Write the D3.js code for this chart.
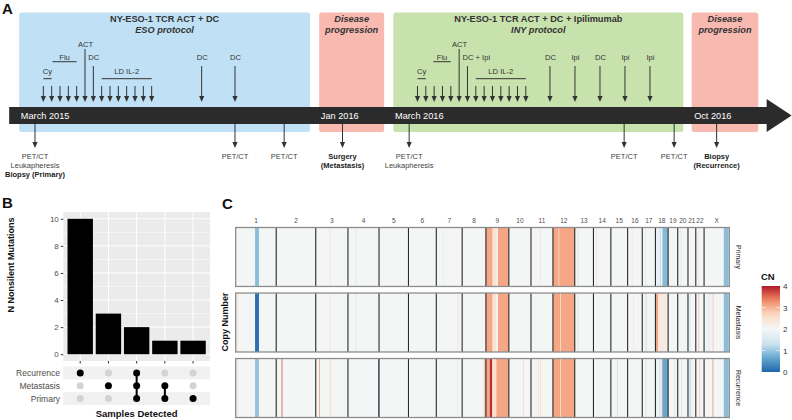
<!DOCTYPE html>
<html><head><meta charset="utf-8">
<script src="https://cdn.jsdelivr.net/npm/d3@7"></script>
<style>body{margin:0;background:#fff}svg{display:block;font-family:"Liberation Sans",Arial,sans-serif}</style>
</head><body><svg id="c" width="792" height="420"></svg>
<script>
// ---------------- Panel A data (schematic timeline units) ----------------
const phases = [
  {title:"NY-ESO-1 TCR ACT + DC", sub:"ESO protocol", start:-1.9, end:33.0, kind:"eso"},
  {title:"Disease", sub:"progression", start:34.1, end:41.9, kind:"pd"},
  {title:"NY-ESO-1 TCR ACT + DC + Ipilimumab", sub:"INY protocol", start:43.0, end:77.8, kind:"iny"},
  {title:"Disease", sub:"progression", start:78.8, end:86.8, kind:"pd"}
];
const timelineLabels = [
  {label:"March 2015", t:-1.7}, {label:"Jan 2016", t:34.3},
  {label:"March 2016", t:43.2}, {label:"Oct 2016", t:79.1}
];
const dailyDosesESO = [1,2,3,4,5,6,7,8,9,10,11,12,13,14];
const dailyDosesINY = [45.9,46.9,47.9,48.9,49.9,50.9,51.9,52.9,53.9,54.9,55.9,56.9,57.9,58.9];
const labeledDoses = [
  {t:6, label:"ACT", level:0}, {t:7, label:"DC", level:1},
  {t:20, label:"DC", level:1}, {t:24, label:"DC", level:1},
  {t:50.9, label:"ACT", level:0}, {t:51.9, label:"DC + Ipi", level:1, anchor:"start"},
  {t:61.8, label:"DC", level:1}, {t:64.8, label:"Ipi", level:1}, {t:67.8, label:"DC", level:1},
  {t:70.8, label:"Ipi", level:1}, {t:73.8, label:"Ipi", level:1}
];
const doseRanges = [
  {label:"Cy", from:1, to:2, level:2}, {label:"Flu", from:2.1, to:5, level:1},
  {label:"LD IL-2", from:8, to:14, level:2},
  {label:"Cy", from:45.9, to:46.9, level:2}, {label:"Flu", from:47.8, to:49.9, level:1},
  {label:"LD IL-2", from:52.9, to:58.9, level:2}
];
const events = [
  {t:0, lines:["PET/CT","Leukapheresis"], bold:["Biopsy (Primary)"]},
  {t:24, lines:["PET/CT"], bold:[]},
  {t:29.9, lines:["PET/CT"], bold:[]},
  {t:36.9, lines:[], bold:["Surgery","(Metastasis)"]},
  {t:44.9, lines:["PET/CT","Leukapheresis"], bold:[]},
  {t:70.7, lines:["PET/CT"], bold:[]},
  {t:76.7, lines:["PET/CT"], bold:[]},
  {t:81.8, lines:[], bold:["Biopsy","(Recurrence)"]}
];

// ---------------- Panel B data ----------------
const sampleSets = ["Recurrence","Metastasis","Primary"];
const combos = [["Recurrence"],["Metastasis"],["Recurrence","Metastasis","Primary"],["Metastasis","Primary"],["Primary"]];
const mutationCounts = [10,3,2,1,1];
const yTicksB = [0,2,4,6,8,10];

// ---------------- Panel C data ----------------
const chromNames = ["1","2","3","4","5","6","7","8","9","10","11","12","13","14","15","16","17","18","19","20","21","22","X"];
const chromLengths = [249,243,198,191,181,171,159,146,141,136,135,134,115,107,103,90,81,78,59,63,48,51,155];
const cnSamples = ["Primary","Metastasis","Recurrence"];
const segPrimary = [
  ["1",119,143,0.9],["3",86,90,2.5],["4",42,52,1.7],["7",39,42,1.7],["8",0,4,2.5],
  ["9",0,41,3.1],["9",41,66,2.5],["9",74,141,3.1],["11",55,58,2.5],
  ["12",0,134,3.1],["12",34,37,2.6],["13",17,21,1.4],["14",17,20,2.6],["16",26,29,2.4],
  ["17",19,22,1.6],["18",0,22,1.8],["18",27,32,1.1],["18",43,78,0.85],["20",17,20,1.5],
  ["22",16,19,2.6],["X",121,150,0.9]
];
const segMetastasis = [
  ["1",10,14,2.5],["1",119,143,0.1],["3",86,90,2.5],["4",42,52,1.7],["7",131,135,2.6],
  ["9",0,41,3.1],["9",41,64,2.5],["9",74,141,3.1],["12",0,134,3.1],["12",44,48,2.4],
  ["13",18,22,1.4],["16",35,38,2.5],["17",20,27,1.3],["18",0,16,3.1],["18",16,78,2.3],
  ["21",10,14,1.3],["22",16,20,2.9],["X",15,45,1.8],["X",53,57,2.9],["X",121,150,0.9]
];
const segRecurrence = [
  ["1",10,14,2.5],["1",119,143,0.95],["2",33,38,3.6],["3",20,24,3.2],["3",86,92,2.7],
  ["4",186,191,0.2],["7",129,133,1.6],["8",132,146,2.8],
  ["9",0,24,3.1],["9",24,39,3.9],["9",39,64,2.6],["9",64,141,3.1],["10",88,92,2.7],
  ["11",43,46,2.6],["11",55,63,2.5],["12",0,134,3.1],["12",44,48,2.4],["15",38,42,1.3],
  ["17",20,25,1.3],["18",0,14,1.8],["18",22,32,1.4],["18",39,42,3.3],["18",44,78,0.65],
  ["19",39,43,1.5],["20",20,24,1.4],["21",8,20,1.3],["22",22,26,2.9],["X",52,56,3.3],["X",121,150,0.9]
];
const cnBreaks = [0,1,2,3,4];

// ======================================================================
const svg = d3.select("#c");
const dark = "#333";

// ---------------- Panel A ----------------
const tx = d3.scaleLinear().domain([0,1]).range([35,43.333]);
const gA = svg.append("g");
gA.append("text").attr("x",2).attr("y",14).attr("font-size",15).attr("font-weight","bold").attr("fill","#111").text("A");
const phaseFill = {eso:"#c0e1f5", pd:"#f7b9b0", iny:"#c8e2ad"};
const boxTop = 12.5, boxBot = 132;
phases.forEach(p=>{
  gA.append("rect").attr("x",tx(p.start)).attr("y",boxTop).attr("width",tx(p.end)-tx(p.start))
    .attr("height",boxBot-boxTop).attr("rx",2.5).attr("fill",phaseFill[p.kind]);
  const cx = (tx(p.start)+tx(p.end))/2;
  gA.append("text").attr("x",cx).attr("y",22).attr("text-anchor","middle").attr("font-size",9.2)
    .attr("font-weight","bold").attr("font-style",p.kind==="pd"?"italic":"normal").attr("fill",dark).text(p.title);
  gA.append("text").attr("x",cx).attr("y",33).attr("text-anchor","middle").attr("font-size",9.2)
    .attr("font-weight","bold").attr("font-style","italic").attr("fill",dark).text(p.sub);
});
const tlTop=107, tlBot=124, headStart=tx(87.8), headTip=tx(90.8);
gA.append("path").attr("fill","#2b2b2b")
  .attr("d",`M${tx(-3.1)},${tlTop}L${headStart},${tlTop}L${headStart},99L${headTip},${(tlTop+tlBot)/2}L${headStart},132L${headStart},${tlBot}L${tx(-3.1)},${tlBot}Z`);
timelineLabels.forEach(d=>{
  gA.append("text").attr("x",tx(d.t)).attr("y",119).attr("font-size",9.2).attr("fill","#fff").text(d.label);
});
function arrow(x,y1,y2){
  const dir = y2>y1?1:-1;
  gA.append("line").attr("x1",x).attr("x2",x).attr("y1",y1).attr("y2",y2-dir*5).attr("stroke",dark).attr("stroke-width",1);
  gA.append("path").attr("fill",dark).attr("d",`M${x-2.6},${y2-dir*6}L${x+2.6},${y2-dir*6}L${x},${y2}Z`);
}
const levelTextY = [46.5, 59.5, 74];
const levelArrowY = [49, 66, 86];
const arrowTip = 102;
const labeledT = new Set(labeledDoses.map(d=>d.t));
dailyDosesESO.concat(dailyDosesINY).forEach(t=>{ if(!labeledT.has(t)) arrow(tx(t),86,arrowTip); });
labeledDoses.forEach(d=>{
  arrow(tx(d.t), levelArrowY[d.level], arrowTip);
  const anchor = d.anchor||"middle";
  gA.append("text").attr("x",anchor==="start"?tx(d.t)-5:tx(d.t)+0.5).attr("y",levelTextY[d.level])
    .attr("text-anchor",anchor).attr("font-size",7.6).attr("fill",dark).text(d.label);
});
doseRanges.forEach(d=>{
  const ly = d.level===1?61.7:78.7;
  gA.append("line").attr("x1",tx(d.from)).attr("x2",tx(d.to)).attr("y1",ly).attr("y2",ly).attr("stroke",dark).attr("stroke-width",1);
  gA.append("text").attr("x",(tx(d.from)+tx(d.to))/2).attr("y",levelTextY[d.level]).attr("text-anchor","middle")
    .attr("font-size",7.6).attr("fill",dark).text(d.label);
});
events.forEach(e=>{
  arrow(tx(e.t), tlBot, 148);
  let y = 159;
  e.lines.forEach(l=>{ gA.append("text").attr("x",tx(e.t)).attr("y",y).attr("text-anchor","middle").attr("font-size",7.5).attr("fill","#444").text(l); y+=9; });
  e.bold.forEach(l=>{ gA.append("text").attr("x",tx(e.t)).attr("y",y).attr("text-anchor","middle").attr("font-size",7.5).attr("font-weight","bold").attr("fill","#222").text(l); y+=9; });
});

// ---------------- Panel B ----------------
const gB = svg.append("g");
gB.append("text").attr("x",2).attr("y",208).attr("font-size",15).attr("font-weight","bold").attr("fill","#111").text("B");
const pL=63.3, pR=210, pT=212, pB=361;
const xB = d3.scalePoint().domain(d3.range(combos.length)).range([pL,pR]).padding(0.6);
const yB = d3.scaleLinear().domain([-0.5,10.5]).range([pB,pT]);
gB.append("rect").attr("x",pL).attr("y",pT).attr("width",pR-pL).attr("height",pB-pT).attr("fill","#ebebeb");
d3.range(1,10,2).forEach(v=>gB.append("line").attr("x1",pL).attr("x2",pR).attr("y1",yB(v)).attr("y2",yB(v)).attr("stroke","#fff").attr("stroke-width",0.5));
yTicksB.forEach(v=>gB.append("line").attr("x1",pL).attr("x2",pR).attr("y1",yB(v)).attr("y2",yB(v)).attr("stroke","#fff").attr("stroke-width",1));
xB.domain().forEach(i=>gB.append("line").attr("x1",xB(i)).attr("x2",xB(i)).attr("y1",pT).attr("y2",pB).attr("stroke","#fff").attr("stroke-width",1));
const bw = xB.step()*0.9;
gB.selectAll("rect.bar").data(mutationCounts).enter().append("rect").attr("class","bar")
  .attr("x",(d,i)=>xB(i)-bw/2).attr("width",bw).attr("y",d=>yB(d)).attr("height",d=>yB(0)-yB(d)).attr("fill","#000");
const axY = gB.append("g").attr("transform",`translate(${pL},0)`).call(d3.axisLeft(yB).tickValues(yTicksB).tickSize(2.5).tickPadding(2));
axY.select(".domain").remove();
axY.selectAll("line").attr("stroke","#333");
axY.selectAll("text").attr("font-size",8).attr("fill","#4d4d4d").attr("font-family","Liberation Sans, Arial, sans-serif");
xB.domain().forEach(i=>gB.append("line").attr("x1",xB(i)).attr("x2",xB(i)).attr("y1",pB).attr("y2",pB+2.5).attr("stroke","#333"));
gB.append("text").attr("transform","translate(14,265) rotate(-90)").attr("text-anchor","middle").attr("font-size",9).attr("font-weight","bold").attr("fill","#111").text("N Nonsilent Mutations");
const yM = d3.scaleBand().domain(sampleSets).range([366.5,405]);
sampleSets.forEach((s,i)=>{ if(i!==1) gB.append("rect").attr("x",pL).attr("y",yM(s)).attr("width",pR-pL).attr("height",yM.bandwidth()).attr("fill","#f1f1f1"); });
sampleSets.forEach(s=>gB.append("text").attr("x",60).attr("y",yM(s)+yM.bandwidth()/2+3).attr("text-anchor","end").attr("font-size",8.5).attr("fill","#4d4d4d").text(s));
combos.forEach((c,i)=>{
  const ys = c.map(s=>yM(s)+yM.bandwidth()/2);
  sampleSets.forEach(s=>{ if(!c.includes(s)) gB.append("circle").attr("cx",xB(i)).attr("cy",yM(s)+yM.bandwidth()/2).attr("r",3.5).attr("fill","#d3d3d3"); });
  if(ys.length>1) gB.append("line").attr("x1",xB(i)).attr("x2",xB(i)).attr("y1",d3.min(ys)).attr("y2",d3.max(ys)).attr("stroke","#000").attr("stroke-width",2);
  ys.forEach(y=>gB.append("circle").attr("cx",xB(i)).attr("cy",y).attr("r",3.5).attr("fill","#000"));
});
gB.append("text").attr("x",(pL+pR)/2).attr("y",417).attr("text-anchor","middle").attr("font-size",9.5).attr("font-weight","bold").attr("fill","#111").text("Samples Detected");

// ---------------- Panel C ----------------
const gC = svg.append("g");
gC.append("text").attr("x",222).attr("y",209).attr("font-size",15).attr("font-weight","bold").attr("fill","#111").text("C");
const chromStart = {}; let acc = 0;
chromNames.forEach((c,i)=>{ chromStart[c]=acc; acc+=chromLengths[i]; });
const totalMb = acc;
const xC = d3.scaleLinear().domain([0,totalMb]).range([235.7,729.3]);
const yC = d3.scaleBand().domain(cnSamples).range([227.5,417.5]).paddingInner(0.1);
const cnColor = d3.scaleLinear().domain([0,0.667,1.333,2,2.667,3.333,4])
  .range(["#2166ac","#67a9cf","#d1e5f0","#f4f6f6","#fddbc7","#ef8a62","#b2182b"]).clamp(true);
const segBySample = {Primary:segPrimary, Metastasis:segMetastasis, Recurrence:segRecurrence};
cnSamples.forEach(s=>{
  const y0 = yC(s), h = yC.bandwidth();
  gC.append("rect").attr("x",xC(0)).attr("y",y0).attr("width",xC(totalMb)-xC(0)).attr("height",h).attr("fill",cnColor(2));
  gC.selectAll(null).data(segBySample[s]).enter().append("rect")
    .attr("x",d=>xC(chromStart[d[0]]+d[1])).attr("width",d=>Math.max(0.8,xC(chromStart[d[0]]+d[2])-xC(chromStart[d[0]]+d[1])))
    .attr("y",y0).attr("height",h).attr("fill",d=>cnColor(d[3]));
  chromNames.slice(1).forEach(c=>gC.append("line").attr("x1",xC(chromStart[c])).attr("x2",xC(chromStart[c])).attr("y1",y0).attr("y2",y0+h).attr("stroke","#2a2a2a").attr("stroke-width",1.1));
  gC.append("rect").attr("x",xC(0)).attr("y",y0).attr("width",xC(totalMb)-xC(0)).attr("height",h).attr("fill","none").attr("stroke","#8c8c8c").attr("stroke-width",1.3);
  const cy = y0+h/2;
  gC.append("text").attr("transform",`translate(736,${cy}) rotate(90)`).attr("text-anchor","middle").attr("font-size",7).attr("fill","#1a1a1a").text(s);
});
chromNames.forEach((c,i)=>gC.append("text").attr("x",xC(chromStart[c]+chromLengths[i]/2)).attr("y",222.5).attr("text-anchor","middle").attr("font-size",6.5).attr("fill","#4d4d4d").text(c));
gC.append("text").attr("transform","translate(228,322) rotate(-90)").attr("text-anchor","middle").attr("font-size",9).attr("font-weight","bold").attr("fill","#111").text("Copy Number");
const yL = d3.scaleLinear().domain([0,4]).range([372,286]);
const defs = svg.append("defs");
const grad = defs.append("linearGradient").attr("id","cng").attr("x1",0).attr("x2",0).attr("y1",1).attr("y2",0);
d3.range(0,4.01,0.25).forEach(v=>grad.append("stop").attr("offset",v/4).attr("stop-color",cnColor(v)));
gC.append("text").attr("x",761).attr("y",280).attr("font-size",9.5).attr("font-weight","bold").attr("fill","#111").text("CN");
gC.append("rect").attr("x",761.7).attr("y",yL(4)).attr("width",18.3).attr("height",yL(0)-yL(4)).attr("fill","url(#cng)");
cnBreaks.forEach(v=>{
  if(v>0 && v<4){
    gC.append("line").attr("x1",761.7).attr("x2",765.4).attr("y1",yL(v)).attr("y2",yL(v)).attr("stroke","#fff").attr("stroke-width",0.6);
    gC.append("line").attr("x1",776.3).attr("x2",780).attr("y1",yL(v)).attr("y2",yL(v)).attr("stroke","#fff").attr("stroke-width",0.6);
  }
  gC.append("text").attr("x",783).attr("y",yL(v)+3).attr("font-size",8).attr("fill","#333").text(v);
});
</script></body></html>
